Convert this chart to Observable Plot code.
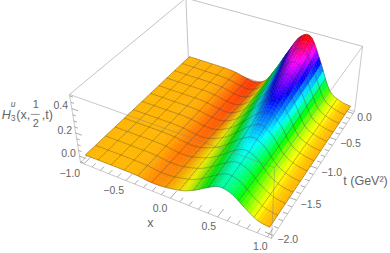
<!DOCTYPE html>
<html><head><meta charset="utf-8">
<style>html,body{margin:0;padding:0;background:#fff}svg{display:block}</style>
<script src="https://cdn.jsdelivr.net/npm/d3@7"></script>
<script src="https://cdn.jsdelivr.net/npm/@observablehq/plot@0.6"></script>
</head><body><div id="c"></div>
<script>
// grid of the surface H(x, t)
const xGrid=[-1,-.875,-.75,-.625,-.5,-.375,-.25,-.125,0,.125,.25,.375,.5,.625,.75,.875,1];
const tGrid=[-2,-1.8333,-1.6667,-1.5,-1.3333,-1.1667,-1,-.8333,-.6667,-.5,-.3333,-.1667,0];
const zRow00=[0,.001,.001,.001,.001,-.003,-.014,-.012,.002,.025,.070,.130,.176,.155,.084,.019,0];
const zRow01=[0,.001,.001,.001,.000,-.004,-.016,-.015,.002,.028,.078,.141,.186,.159,.080,.019,0];
const zRow02=[0,.001,.001,.000,.000,-.005,-.018,-.017,.002,.033,.087,.152,.196,.164,.076,.019,0];
const zRow03=[0,.000,.000,.000,.000,-.006,-.020,-.020,.003,.038,.097,.167,.210,.171,.072,.018,0];
const zRow04=[0,.000,.000,.000,-.001,-.007,-.021,-.023,.003,.045,.110,.186,.228,.182,.070,.018,0];
const zRow05=[0,.000,.000,-.001,-.001,-.008,-.023,-.026,.003,.052,.127,.208,.251,.192,.070,.018,0];
const zRow06=[0,.000,-.001,-.001,-.002,-.009,-.025,-.029,.003,.062,.147,.236,.278,.209,.070,.018,0];
const zRow07=[0,.000,-.001,-.001,-.002,-.010,-.027,-.031,.004,.073,.170,.269,.311,.225,.070,.018,0];
const zRow08=[0,-.001,-.001,-.002,-.003,-.011,-.029,-.034,.004,.085,.193,.301,.340,.239,.072,.018,0];
const zRow09=[0,-.001,-.001,-.002,-.003,-.012,-.031,-.037,.004,.097,.217,.334,.369,.251,.075,.018,0];
const zRow10=[0,-.001,-.002,-.002,-.004,-.013,-.033,-.040,.004,.110,.243,.368,.398,.262,.079,.019,0];
const zRow11=[0,-.001,-.002,-.003,-.004,-.014,-.035,-.043,.005,.128,.278,.414,.441,.279,.083,.020,0];
const zRow12=[0,-.001,-.002,-.003,-.005,-.015,-.037,-.045,.005,.150,.320,.470,.490,.300,.085,.020,0];
const zRows=[zRow00,zRow01,zRow02,zRow03,zRow04,zRow05,zRow06,zRow07,zRow08,zRow09,zRow10,zRow11,zRow12];

const xTicks=[-1,-.5,0,.5,1], tTicks=[0,-.5,-1,-1.5,-2], zTicks=[0,.2,.4];
const xMinor=d3.range(-10,11).map(d=>d/10), tMinor=d3.range(-20,1).map(d=>d/10), zMinor=d3.range(-1,11).map(d=>d/20);

// box of the 3D view and its camera
const xBox=[-1.04,1.04], tBox=[-2.04,.04], zBox=[-.0568,.5114];
const camX=[80,161.2,146.5,-15.66], camY=[162,49.8,-90.3,-74.4], camD=[1,-.11,.205,-.0675];
function norm(v,b){return (v-b[0])/(b[1]-b[0]);}
function cam(u,v,w){const d=camD[0]+camD[1]*u+camD[2]*v+camD[3]*w;
  return [(camX[0]+camX[1]*u+camX[2]*v+camX[3]*w)/d,(camY[0]+camY[1]*u+camY[2]*v+camY[3]*w)/d];}
function proj(x,t,z){return cam(norm(x,xBox),norm(t,tBox),norm(z,zBox));}

// smooth surface between the grid values (fi, fj: fractional row and column)
function cr(a,b,c,d,f){return b+.5*f*(c-a+f*(2*a-5*b+4*c-d+f*(3*(b-c)+d-a)));}
const cl=(v,n)=>Math.max(0,Math.min(n,v));
function rowAt(i,fj){const j=Math.min(15,Math.floor(fj)),f=fj-j,r=zRows[i];
  return cr(r[cl(j-1,16)],r[j],r[j+1],r[cl(j+2,16)],f);}
function surf(fi,fj){const i=Math.min(11,Math.floor(fi)),f=fi-i;
  return cr(rowAt(cl(i-1,12),fj),rowAt(i,fj),rowAt(i+1,fj),rowAt(cl(i+2,12),fj),f);}
const xAt=fj=>-1+fj*.125, tAt=fi=>-2+fi/6;
function colour(fi,fj){
  const z=surf(fi,fj), slope=(surf(fi,Math.min(16,fj+.1))-surf(fi,Math.max(0,fj-.1)))/.2;
  const h=((.118+1.78*z)%1+1)%1;
  const shade=Math.max(.62,1-Math.max(0,slope)*2.0);
  const c=d3.hsl(h*360,1,.5).rgb();
  return d3.rgb(c.r*shade,c.g*shade,c.b*shade).formatHex();
}
const meshX=13, meshT=12, subX=5, subT=4, nX=meshX*subX, nT=meshT*subT;
const mesh="rgba(50,50,50,.5)", verts=[];
let id=0;
function poly(pts,fill,stroke,sw){id++;for(const p of pts)verts.push({id,px:p[0],py:p[1],fill,stroke,sw});}
const fiOf=a=>a*12/nT, fjOf=b=>b*16/nX;
function P(a,b){const fi=fiOf(a),fj=fjOf(b);return proj(xAt(fj),tAt(fi),surf(fi,fj));}
for(let a=nT-1;a>=0;a--)for(let b=0;b<nX;b++){
  const col=colour(fiOf(a+.5),fjOf(b+.5));
  poly([P(a,b),P(a,b+1),P(a+1,b+1),P(a+1,b),P(a,b)],col,col,.45);
  if((a+1)%subT===0)poly([P(a+1,b),P(a+1,b+1)],"none",mesh,.7);
  if(b%subX===0)poly([P(a,b),P(a+1,b)],"none",mesh,.7);
  if(a===0)poly([P(a,b),P(a,b+1)],"none",mesh,.7);
  if(b===nX-1)poly([P(a,b+1),P(a+1,b+1)],"none",mesh,.7);
}

const [x0,x1]=xBox,[t0,t1]=tBox,[z0,z1]=zBox;
const backEdges=[[x0,t1,z0,x0,t1,z1],[x0,t1,z1,x1,t1,z1],[x0,t1,z1,x0,t0,z1],[x0,t1,z0,x1,t1,z0],[x0,t1,z0,x0,t0,z0]];
const frontEdges=[[x0,t0,z1,x1,t0,z1],[x1,t0,z1,x1,t1,z1],[x1,t0,z1,x1,t0,z0],[x1,t1,z1,x1,t1,z0],[x0,t0,z0,x0,t0,z1],[x0,t0,z0,x1,t0,z0],[x1,t0,z0,x1,t1,z0]];
const lk=(d,i)=>proj(...(i?d.slice(3):d.slice(0,3)));
const link=(data,o)=>Plot.link(data,{x1:d=>lk(d,0)[0],y1:d=>lk(d,0)[1],x2:d=>lk(d,1)[0],y2:d=>lk(d,1)[1],...o});
const tickSegs=[];
const has=(a,v)=>a.some(q=>Math.abs(q-v)<1e-6);
for(const v of xMinor){const L=has(xTicks,v)?.055:.03;tickSegs.push([v,t0,z0,v,t0+L*2.08,z0]);}
for(const v of tMinor){const L=has(tTicks,v)?.04:.022;tickSegs.push([x1,v,z0,x1-L*2.08,v,z0]);}
for(const v of zMinor){const L=has(zTicks,v)?.035:.018;tickSegs.push([x0,t0,v,x0+L*2.08,t0,v]);}

const font="'Liberation Sans',Arial,sans-serif", grey="#666";
const fmt=v=>v.toFixed(1).replace("-","\u2212");
const lab=(vals,f,o)=>Plot.text(vals,{x:d=>f(d)[0],y:d=>f(d)[1],text:fmt,fontSize:10.5,fontFamily:font,fill:grey,...o});
const zAnchor=proj(x0,t0,.2), xAnchor=proj(0,t0,z0), tAnchor=proj(x1,-1,z0);
const piece=(text,dx,dy,size,style)=>Plot.text([text],{x:()=>zAnchor[0]+dx,y:()=>zAnchor[1]+dy,text:d=>d,textAnchor:"start",fontSize:size,fontStyle:style||"normal",fontFamily:font,fill:grey});

const chart=Plot.plot({width:390,height:253,margin:0,style:{background:"#fff"},
  x:{domain:[0,390],axis:null},y:{domain:[253,0],axis:null},color:{type:"identity"},
  marks:[
    link(backEdges,{stroke:"#b4b4b4",strokeWidth:.8}),
    Plot.line(verts,{x:"px",y:"py",z:"id",fill:"fill",stroke:"stroke",strokeWidth:"sw",strokeLinecap:"butt"}),
    link(frontEdges,{stroke:"rgba(130,130,130,.55)",strokeWidth:.8}),
    link(tickSegs,{stroke:"#8a8a8a",strokeWidth:.7}),
    lab(zTicks,v=>{const p=proj(x0,t0,v);return [p[0]-11,p[1]-2.5];},{textAnchor:"middle"}),
    lab(xTicks,v=>{const p=proj(v,t0,z0);return [p[0]-10.5+3.5*v,p[1]+10];},{textAnchor:"middle"}),
    lab(tTicks,v=>{const p=proj(x1,v,z0);return [p[0]+4,p[1]+4];},{textAnchor:"start"}),
    Plot.text(["x"],{x:()=>xAnchor[0]-20,y:()=>xAnchor[1]+25,text:d=>d,fontSize:12.5,fontFamily:font,fill:grey}),
    Plot.text(["t (GeV\u00b2)"],{x:()=>tAnchor[0]+26,y:()=>tAnchor[1]+13,text:d=>d,textAnchor:"start",fontSize:12.5,fontFamily:font,fill:grey}),
    piece("H",-74,-18,12.5,"italic"),
    piece("u",-65,-29,8.5,"italic"),
    piece("3",-65,-15,8.5),
    piece("(x,",-59.5,-18,12.5),
    piece("1",-43,-28,11),
    piece("2",-43,-9,11),
    Plot.link([[-45,-18.5,-36,-18.5]],{x1:d=>zAnchor[0]+d[0],y1:d=>zAnchor[1]+d[1],x2:d=>zAnchor[0]+d[2],y2:d=>zAnchor[1]+d[3],stroke:grey,strokeWidth:.7}),
    piece(",t)",-34,-18,12.5)
  ]});
document.getElementById("c").appendChild(chart);
</script></body></html>
